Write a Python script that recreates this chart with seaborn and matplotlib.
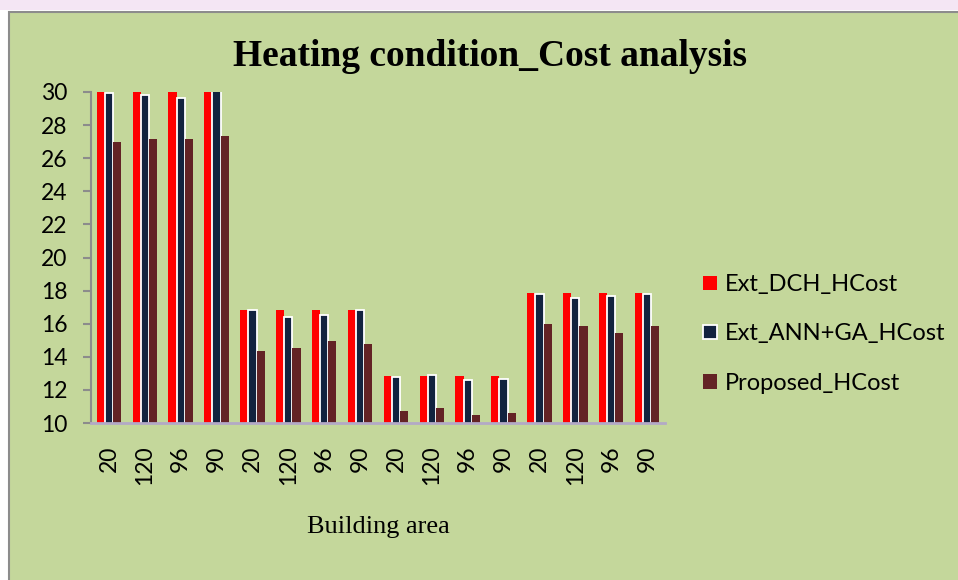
"""Heating condition cost analysis bar chart."""
import matplotlib
matplotlib.use("Agg")
import matplotlib.pyplot as plt
import numpy as np
import pandas as pd
import seaborn as sns
from matplotlib.patches import Rectangle

area_labels = ["20", "120", "96", "90"] * 4
series_names = ["Ext_DCH_HCost", "Ext_ANN+GA_HCost", "Proposed_HCost"]
ext_dch = [30.0, 30.0, 30.0, 30.0, 16.83, 16.83, 16.83, 16.83,
           12.81, 12.81, 12.81, 12.81, 17.84, 17.84, 17.84, 17.84]
ext_ann_ga = [29.92, 29.84, 29.64, 30.04, 16.83, 16.42, 16.55, 16.83,
              12.79, 12.91, 12.62, 12.64, 17.80, 17.55, 17.65, 17.80]
proposed = [27.0, 27.13, 27.19, 27.37, 14.34, 14.53, 14.95, 14.77,
            10.75, 10.93, 10.50, 10.62, 15.96, 15.84, 15.41, 15.84]
colors = ["#FF0000", "#12233F", "#632325"]

sns.set_theme(style="white")
plt.rcParams["font.family"] = ["Lato", "DejaVu Sans"]
plt.rcParams["text.color"] = "black"

rows = []
for name, vals in zip(series_names, [ext_dch, ext_ann_ga, proposed]):
    for i, v in enumerate(vals):
        rows.append({"idx": i, "value": v, "series": name})
df = pd.DataFrame(rows)

green = "#C4D79B"
fig = plt.figure(figsize=(9.58, 5.8), dpi=100, facecolor="white")
fig.patches.append(Rectangle((0, 1 - 10 / 580), 1, 10 / 580, transform=fig.transFigure,
                             facecolor="#F4E6F4", edgecolor="none", zorder=0))
fig.patches.append(Rectangle((9 / 958, -0.01), 1, 1 - 12 / 580 + 0.01, transform=fig.transFigure,
                             facecolor=green, edgecolor="#8C8C8C", linewidth=1.5, zorder=0))

ax = fig.add_axes([91 / 958, 1 - 423 / 580, (665 - 91) / 958, (423 - 92) / 580])
ax.set_zorder(3)
ax.set_facecolor(green)
sns.barplot(data=df, x="idx", y="value", hue="series", palette=colors,
            width=0.68, ax=ax, legend=True, saturation=1)

# white outline on the middle series
for bar in ax.containers[1]:
    bar.set_edgecolor("white")
    bar.set_linewidth(1.3)
for c in (ax.containers[0], ax.containers[2]):
    for bar in c:
        bar.set_linewidth(0)

ax.set_ylim(10, 30)
ax.set_xlim(-0.5, 15.5)
ax.set_yticks(np.arange(10, 31, 2))
ax.set_xticks(range(16))
ax.set_xticklabels(area_labels, rotation=90, fontsize=16.5)
ax.tick_params(axis="y", labelsize=16.5, length=6, width=1.5, color="#8C8C8C",
               left=True, pad=11, labelcolor="black")
ax.tick_params(axis="x", length=0, pad=16, labelcolor="black")
for s in ("top", "right"):
    ax.spines[s].set_visible(False)
ax.spines["left"].set_color("#8C8C8C")
ax.spines["left"].set_linewidth(1.5)
ax.spines["bottom"].set_color("#B3A9C6")
ax.spines["bottom"].set_linewidth(2)
ax.set_ylabel("")
ax.set_xlabel("")

fig.text(490 / 958, 1 - 57 / 580, "Heating condition_Cost analysis", ha="center", va="center",
         fontsize=27, fontweight="bold", family="Liberation Serif", color="black")
fig.text(378 / 958, 1 - 527 / 580, "Building area", ha="center", va="center",
         fontsize=19, family="Liberation Serif", color="black")

handles, labels = ax.get_legend_handles_labels()
ax.legend_.remove()
leg = fig.legend(handles, labels, loc="center left", bbox_to_anchor=(682 / 958, 1 - 334 / 580),
                 frameon=False, fontsize=17, handlelength=0.57, handleheight=0.57,
                 labelspacing=1.2, handletextpad=0.33)
for i, h in enumerate(leg.legend_handles):
    if i == 1:
        h.set_edgecolor("white")
        h.set_linewidth(1.3)
    else:
        h.set_linewidth(0)
for t in leg.get_texts():
    t.set_color("black")

fig.savefig("out.png", dpi=100, facecolor=fig.get_facecolor())
